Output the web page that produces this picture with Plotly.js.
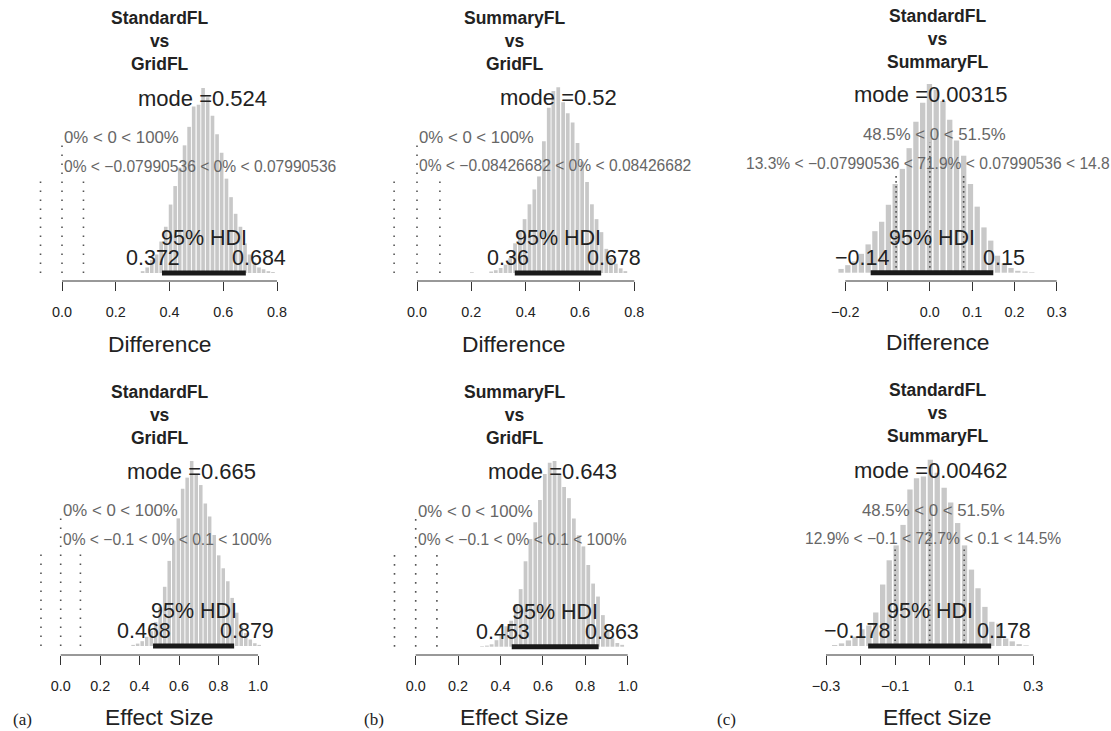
<!DOCTYPE html>
<html><head><meta charset="utf-8">
<script src="https://cdn.plot.ly/plotly-3.0.1.min.js"></script>
<style>html,body{margin:0;padding:0;background:#fff}#chart{width:1111px;height:731px}</style>
</head><body><div id="chart"></div>
<script>
// ---------------- DATA ----------------
// Panel 1: StandardFL vs GridFL, Difference
const p1Centers = [0.300,0.317,0.334,0.352,0.369,0.386,0.404,0.421,0.438,0.456,0.473,0.490,0.508,0.525,0.542,0.560,0.577,0.594,0.612,0.629,0.646,0.664,0.681,0.698,0.716,0.733,0.750,0.768,0.785];
const p1Heights = [1,3,7,10,17,25,37,47,57,69,79,90,91,100,95,85,75,65,51,41,32,25,16,10,6,3,2,1,0.5];
const p1HDI = [0.372, 0.684];
const p1Mode = 0.524;
const p1Rope = [-0.07990536, 0.07990536];
const p1Texts = ["StandardFL<br>vs<br>GridFL", "mode =0.524", "0% < 0 < 100%", "0% < \u22120.07990536 < 0% < 0.07990536", "0.372", "0.684", "Difference"];
const p1Adj = [0, 0];

// Panel 2: SummaryFL vs GridFL, Difference
const p2Centers = [0.202,0.273,0.290,0.308,0.326,0.343,0.361,0.379,0.396,0.414,0.432,0.449,0.467,0.485,0.502,0.520,0.538,0.555,0.573,0.591,0.608,0.626,0.644,0.661,0.679,0.697,0.714,0.732,0.750,0.767];
const p2Heights = [0.4,0.8,1.5,2.7,4.5,8,16,22,29,37,45,52,71,89,98,100,92,86,81,70,60,49,37,29,22,13,8,5,2.5,1];
const p2HDI = [0.36, 0.678];
const p2Mode = 0.52;
const p2Rope = [-0.08426682, 0.08426682];
const p2Texts = ["SummaryFL<br>vs<br>GridFL", "mode =0.52", "0% < 0 < 100%", "0% < \u22120.08426682 < 0% < 0.08426682", "0.36", "0.678", "Difference"];
const p2Adj = [0, 0];

// Panel 3: StandardFL vs SummaryFL, Difference
const p3Centers = [-0.210,-0.194,-0.178,-0.162,-0.146,-0.130,-0.114,-0.098,-0.082,-0.065,-0.049,-0.033,-0.017,-0.001,0.015,0.031,0.047,0.063,0.080,0.096,0.112,0.128,0.144,0.160,0.176,0.192,0.208,0.225,0.241];
const p3Heights = [2,4,6,10,15,22,27,36,47,55,66,80,90,100,97,91,81,70,62,47,35,24,17,9,5,2.5,1,0.6,0.3];
const p3HDI = [-0.14, 0.15];
const p3Mode = 0.00315;
const p3Rope = [-0.07990536, 0.07990536];
const p3Texts = ["StandardFL<br>vs<br>SummaryFL", "mode =0.00315", "48.5% < 0 < 51.5%", "13.3% < \u22120.07990536 < 71.9% < 0.07990536 < 14.8", "\u22120.14", "0.15", "Difference"];
const p3Adj = [0.485, 0.4925];

// Panel 4: StandardFL vs GridFL, Effect Size
const p4Centers = [0.367,0.390,0.413,0.436,0.459,0.481,0.504,0.527,0.550,0.573,0.596,0.618,0.641,0.664,0.687,0.710,0.733,0.755,0.778,0.801,0.824,0.847,0.869,0.892,0.915,0.938,0.961,0.984,1.006];
const p4Heights = [0.6,1.3,2.6,5,8,13,21,32,46,57,69,85,91,100,93,87,77,70,60,49,42,35,26,18,11,7,3.5,1.5,0.6];
const p4HDI = [0.468, 0.879];
const p4Mode = 0.665;
const p4Rope = [-0.1, 0.1];
const p4Texts = ["StandardFL<br>vs<br>GridFL", "mode =0.665", "0% < 0 < 100%", "0% < \u22120.1 < 0% < 0.1 < 100%", "0.468", "0.879", "Effect Size"];
const p4Adj = [0, 0];

// Panel 5: SummaryFL vs GridFL, Effect Size
const p5Centers = [0.313,0.336,0.358,0.381,0.404,0.427,0.450,0.473,0.495,0.518,0.541,0.564,0.586,0.609,0.632,0.655,0.678,0.700,0.723,0.746,0.769,0.791,0.814,0.837,0.860,0.883,0.905,0.928,0.951,0.974];
const p5Heights = [0.3,0.6,1.3,3.5,6,11,14,23,31,46,58,67,79,93,99,100,93,86,80,69,60,54,44,34,27,17,9,4.5,2,1];
const p5HDI = [0.453, 0.863];
const p5Mode = 0.643;
const p5Rope = [-0.1, 0.1];
const p5Texts = ["SummaryFL<br>vs<br>GridFL", "mode =0.643", "0% < 0 < 100%", "0% < \u22120.1 < 0% < 0.1 < 100%", "0.453", "0.863", "Effect Size"];
const p5Adj = [0, 0];

// Panel 6: StandardFL vs SummaryFL, Effect Size
const p6Centers = [-0.275,-0.255,-0.235,-0.216,-0.196,-0.176,-0.156,-0.136,-0.117,-0.097,-0.077,-0.057,-0.038,-0.018,0.002,0.022,0.042,0.061,0.081,0.101,0.121,0.140,0.160,0.180,0.200,0.220,0.239,0.259,0.279];
const p6Heights = [0.5,1.4,3,5,9,11,18,33,46,54,65,84,90,91,100,93,85,77,66,54,41,31,21,13,12,4,2.5,1,0.3];
const p6HDI = [-0.178, 0.178];
const p6Mode = 0.00462;
const p6Rope = [-0.1, 0.1];
const p6Texts = ["StandardFL<br>vs<br>SummaryFL", "mode =0.00462", "48.5% < 0 < 51.5%", "12.9% < \u22120.1 < 72.7% < 0.1 < 14.5%", "\u22120.178", "0.178", "Effect Size"];
const p6Adj = [0.485, 0.4925];

const compVal = 0;

// tick values / labels
const ticksDiff = [0, 0.2, 0.4, 0.6, 0.8];
const ticksDiffText = ["0.0", "0.2", "0.4", "0.6", "0.8"];
const ticksDiff3 = [-0.2, -0.1, 0, 0.1, 0.2, 0.3];
const ticksDiff3Text = ["\u22120.2", "", "0.0", "0.1", "0.2", "0.3"];
const ticksES = [0, 0.2, 0.4, 0.6, 0.8, 1.0];
const ticksESText = ["0.0", "0.2", "0.4", "0.6", "0.8", "1.0"];
const ticksES6 = [-0.3, -0.2, -0.1, 0, 0.1, 0.2, 0.3];
const ticksES6Text = ["\u22120.3", "", "\u22120.1", "", "0.1", "", "0.3"];

const subLabels = ["(a)", "(b)", "(c)"];

// ---------------- LAYOUT / STYLE ----------------
const W = 1111, H = 731;
const FONT = '"Liberation Sans", Arial, Helvetica, sans-serif';
const SERIF = '"Liberation Serif", "Times New Roman", serif';
const DARK = '#222222';
const GREY_TXT = '#666666';
const BAR = '#c8c8c8';

const panels = [
  {c:p1Centers,h:p1Heights,hdi:p1HDI,mode:p1Mode,rope:p1Rope,t:p1Texts,adj:p1Adj,tv:ticksDiff,tt:ticksDiffText,bw:0.01733,
   L:30,R:335,x0px:62,x0v:0,x1px:277,x1v:0.8,base:273,topPx:88,axisY:281,domTop:70,tx:160,ty:41,xty:343.5,dash:'1.6px,7.4px'},
  {c:p2Centers,h:p2Heights,hdi:p2HDI,mode:p2Mode,rope:p2Rope,t:p2Texts,adj:p2Adj,tv:ticksDiff,tt:ticksDiffText,bw:0.01767,
   L:385,R:690,x0px:417,x0v:0,x1px:634.3,x1v:0.8,base:273,topPx:87.3,axisY:281,domTop:70,tx:514,ty:41,xty:343.5,dash:'1.6px,7.4px'},
  {c:p3Centers,h:p3Heights,hdi:p3HDI,mode:p3Mode,rope:p3Rope,t:p3Texts,adj:p3Adj,tv:ticksDiff3,tt:ticksDiff3Text,bw:0.01611,
   L:790,R:1100,x0px:845.3,x0v:-0.2,x1px:1056.7,x1v:0.3,base:272.7,topPx:84,axisY:281,domTop:70,tx:937.5,ty:38.5,xty:341.7,dash:'1.6px,3.4px',ropeFull:'%'},
  {c:p4Centers,h:p4Heights,hdi:p4HDI,mode:p4Mode,rope:p4Rope,t:p4Texts,adj:p4Adj,tv:ticksES,tt:ticksESText,bw:0.02283,
   L:30,R:335,x0px:60.7,x0v:0,x1px:258,x1v:1.0,base:646,topPx:461,axisY:655,domTop:445,tx:159.7,ty:415,xty:716.7,dash:'1.6px,7.4px'},
  {c:p5Centers,h:p5Heights,hdi:p5HDI,mode:p5Mode,rope:p5Rope,t:p5Texts,adj:p5Adj,tv:ticksES,tt:ticksESText,bw:0.02278,
   L:385,R:690,x0px:415.7,x0v:0,x1px:627.7,x1v:1.0,base:646.7,topPx:461,axisY:655,domTop:445,tx:514,ty:415,xty:716.7,dash:'1.6px,7.4px'},
  {c:p6Centers,h:p6Heights,hdi:p6HDI,mode:p6Mode,rope:p6Rope,t:p6Texts,adj:p6Adj,tv:ticksES6,tt:ticksES6Text,bw:0.01978,
   L:790,R:1100,x0px:826,x0v:-0.3,x1px:1033.3,x1v:0.3,base:646,topPx:459.7,axisY:655,domTop:445,tx:937.5,ty:413.3,xty:716.7,dash:'1.6px,3.4px'}
];

const ctx = document.createElement('canvas').getContext('2d');
function textW(s, size, weight) {
  ctx.font = (weight || 'normal') + ' ' + size + 'px "Liberation Sans"';
  return ctx.measureText(s).width;
}
const esc = s => s.replace(/</g, '&lt;');
const px2x = px => px / W;
const px2y = py => 1 - py / H;

const traces = [], shapes = [], annotations = [];
const layout = {
  width: W, height: H, margin: {l:0, r:0, t:0, b:0, pad:0},
  paper_bgcolor: '#ffffff', plot_bgcolor: 'rgba(0,0,0,0)',
  showlegend: false, font: {family: FONT, color: DARK}
};

const SZ_MODE = 22, SZ_HDI = 21.5, SZ_CV = 16.8, SZ_ROPE = 15.6, SZ_TITLE = 17.5, SZ_AX = 22.8, SZ_TICK = 14.4;

panels.forEach((p, i) => {
  const n = i + 1;
  const xa = n === 1 ? 'x' : 'x' + n;
  const ya = n === 1 ? 'y' : 'y' + n;
  const xk = n === 1 ? 'xaxis' : 'xaxis' + n;
  const yk = n === 1 ? 'yaxis' : 'yaxis' + n;
  const pxPerX = (p.x1px - p.x0px) / (p.x1v - p.x0v);
  const xr = [p.x0v + (p.L - p.x0px) / pxPerX, p.x0v + (p.R - p.x0px) / pxPerX];
  const maxH = Math.max(...p.h);
  const pxPerY = (p.base - p.topPx) / maxH;
  const yr = [-(p.axisY - p.base) / pxPerY, (p.base - p.domTop) / pxPerY];

  layout[xk] = {
    domain: [px2x(p.L), px2x(p.R)], range: xr, anchor: ya, fixedrange: true,
    showgrid: false, zeroline: false, showline: false,
    tickmode: 'array', tickvals: p.tv, ticktext: p.tt,
    ticks: 'outside', ticklen: 9, tickwidth: 1, tickcolor: '#333',
    ticklabelstandoff: 9,
    tickfont: {family: FONT, size: SZ_TICK, color: DARK}
  };
  layout[yk] = {
    domain: [px2y(p.axisY), px2y(p.domTop)], range: yr, anchor: xa, fixedrange: true,
    visible: false, showgrid: false, zeroline: false
  };

  // histogram bars
  traces.push({
    type: 'bar', x: p.c, y: p.h, width: p.bw * 0.78, xaxis: xa, yaxis: ya,
    marker: {color: BAR, line: {width: 0}}, hoverinfo: 'skip'
  });
  // comparison value dotted line
  traces.push({
    type: 'scatter', mode: 'lines', x: [compVal, compVal], y: [0, 0.69 * maxH], xaxis: xa, yaxis: ya,
    line: {color: '#555', width: 1.6, dash: p.dash}, hoverinfo: 'skip'
  });
  // ROPE dotted lines
  p.rope.forEach(r => traces.push({
    type: 'scatter', mode: 'lines', x: [r, r], y: [0, 0.53 * maxH], xaxis: xa, yaxis: ya,
    line: {color: '#555', width: 1.6, dash: p.dash}, hoverinfo: 'skip'
  }));
  // HDI bar
  traces.push({
    type: 'scatter', mode: 'lines', x: p.hdi, y: [0, 0], xaxis: xa, yaxis: ya,
    line: {color: '#1a1a1a', width: 5}, hoverinfo: 'skip'
  });

  // axis line from first to last tick
  shapes.push({type: 'line', xref: xa, yref: ya + ' domain', x0: p.tv[0], x1: p.tv[p.tv.length - 1], y0: 0, y1: 0,
    line: {color: '#333', width: 1}});

  const T = p.t;
  // title
  annotations.push({xref: 'paper', yref: 'paper', x: px2x(p.tx), y: px2y(p.ty), xanchor: 'center', yanchor: 'middle',
    text: T[0], showarrow: false, font: {family: FONT, size: SZ_TITLE, color: DARK, weight: 'bold'}});
  // mode
  annotations.push({xref: xa, yref: ya, x: p.mode, y: 0.944 * maxH, xanchor: 'center', yanchor: 'middle',
    text: esc(T[1]), showarrow: false, font: {family: FONT, size: SZ_MODE, color: DARK}});
  // comparison value text
  const wcv = textW(T[2], SZ_CV);
  annotations.push({xref: xa, yref: ya, x: compVal, y: 0.73 * maxH, xanchor: 'left', yanchor: 'middle',
    xshift: -p.adj[0] * wcv, text: esc(T[2]), showarrow: false, font: {family: FONT, size: SZ_CV, color: GREY_TXT}});
  // ROPE text
  const wr = textW(T[3] + (p.ropeFull || ''), SZ_ROPE);
  annotations.push({xref: xa, yref: ya, x: (p.rope[0] + p.rope[1]) / 2, y: 0.578 * maxH, xanchor: 'left', yanchor: 'middle',
    xshift: -p.adj[1] * wr, text: esc(T[3]), showarrow: false, font: {family: FONT, size: SZ_ROPE, color: GREY_TXT}});
  // HDI limits
  const w1 = textW(T[4], SZ_HDI), w2 = textW(T[5], SZ_HDI);
  annotations.push({xref: xa, yref: ya, x: p.hdi[0], y: 0, yshift: 15, xanchor: 'left', yanchor: 'middle',
    xshift: -0.7 * w1, text: T[4], showarrow: false, font: {family: FONT, size: SZ_HDI, color: DARK}});
  annotations.push({xref: xa, yref: ya, x: p.hdi[1], y: 0, yshift: 15, xanchor: 'left', yanchor: 'middle',
    xshift: -0.3 * w2, text: T[5], showarrow: false, font: {family: FONT, size: SZ_HDI, color: DARK}});
  annotations.push({xref: xa, yref: ya, x: (p.hdi[0] + p.hdi[1]) / 2, y: 0, yshift: 35, xanchor: 'center', yanchor: 'middle',
    text: '95% HDI', showarrow: false, font: {family: FONT, size: SZ_HDI, color: DARK}});
  // x-axis title
  annotations.push({xref: 'paper', yref: 'paper', x: px2x(p.tx), y: px2y(p.xty), xanchor: 'center', yanchor: 'middle',
    text: T[6], showarrow: false, font: {family: FONT, size: SZ_AX, color: DARK}});
});

// sub-figure labels
const subX = [22.5, 373.5, 727];
subLabels.forEach((s, i) => annotations.push({xref: 'paper', yref: 'paper', x: px2x(subX[i]), y: px2y(719),
  xanchor: 'center', yanchor: 'middle', text: s, showarrow: false, font: {family: SERIF, size: 17, color: DARK}}));

layout.shapes = shapes;
layout.annotations = annotations;
Plotly.newPlot('chart', traces, layout, {displayModeBar: false, staticPlot: true});
</script></body></html>
